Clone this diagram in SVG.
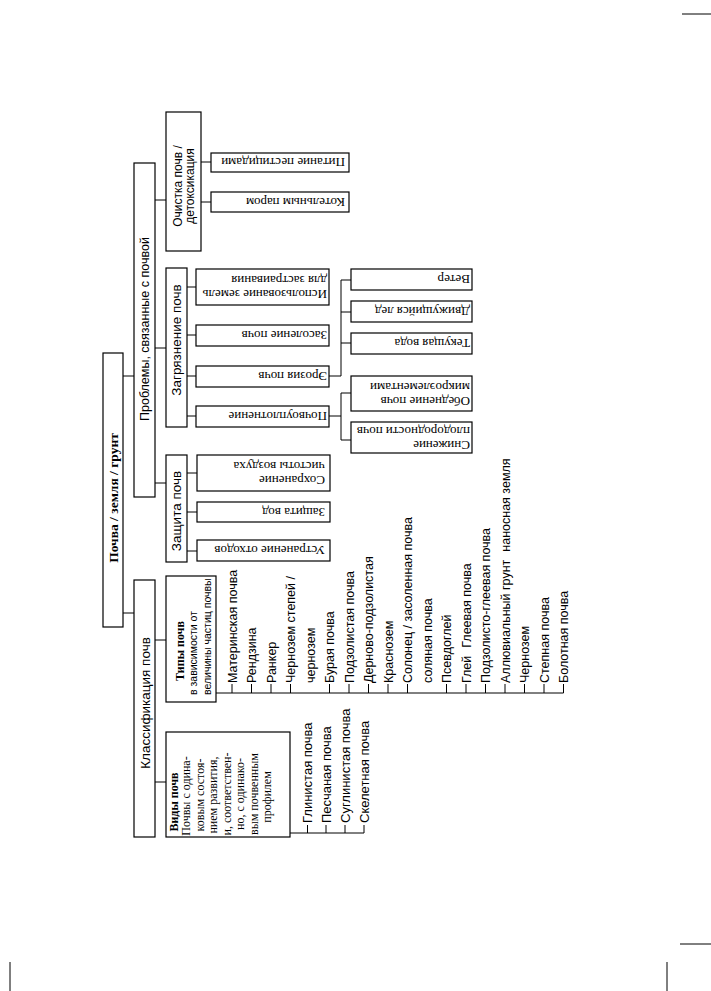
<svg xmlns="http://www.w3.org/2000/svg" width="711" height="991" viewBox="0 0 711 991">
<style>
.box{fill:#fff;stroke:#000;stroke-width:1.2}
.ln{stroke:#000;stroke-width:1;fill:none}
.sans{font-family:"Liberation Sans",Arial,sans-serif;fill:#000}
.serif{font-family:"Liberation Serif","Times New Roman",serif;fill:#000}
.lab{font-size:13.5px}
.bt{font-size:13px}
.li{font-size:12.5px}
.mid{text-anchor:middle}
</style>
<rect width="711" height="991" fill="#fff"/>
<g id="page-marks" class="ln">
<line x1="682" y1="14" x2="711" y2="14"/>
<line x1="680" y1="944" x2="711" y2="944"/>
<line x1="10" y1="962" x2="10" y2="991"/>
<line x1="667" y1="962" x2="667" y2="991"/>
</g>
<g id="connectors" class="ln">
<line x1="123" y1="376" x2="134" y2="376"/>
<line x1="123" y1="613" x2="134" y2="613"/>
<line x1="155" y1="200" x2="166" y2="200"/>
<line x1="155" y1="348" x2="166" y2="348"/>
<line x1="155" y1="483" x2="166" y2="483"/>
<line x1="155" y1="640" x2="166" y2="640"/>
<line x1="155" y1="782" x2="166" y2="782"/>
<line x1="201" y1="162" x2="211" y2="162"/>
<line x1="201" y1="202" x2="211" y2="202"/>
<line x1="187" y1="287" x2="196" y2="287"/>
<line x1="187" y1="335" x2="196" y2="335"/>
<line x1="187" y1="376" x2="196" y2="376"/>
<line x1="187" y1="416" x2="196" y2="416"/>
<line x1="187" y1="473" x2="197" y2="473"/>
<line x1="187" y1="512" x2="197" y2="512"/>
<line x1="187" y1="551" x2="197" y2="551"/>
<polyline points="329,376 341,376"/>
<line x1="341" y1="280" x2="341" y2="376"/>
<line x1="341" y1="280" x2="351" y2="280"/>
<line x1="341" y1="312" x2="351" y2="312"/>
<line x1="341" y1="343" x2="351" y2="343"/>
<line x1="329" y1="416" x2="341" y2="416"/>
<line x1="341" y1="393" x2="341" y2="440"/>
<line x1="341" y1="393" x2="351" y2="393"/>
<line x1="341" y1="440" x2="351" y2="440"/>
<line x1="216" y1="693" x2="563.5" y2="693"/>
<path d="M232 693V684M251.5 693V684M271 693V684M290.5 693V684M329.5 693V684M349 693V684M368.5 693V684M388 693V684M407.5 693V684M446.5 693V684M466 693V684M485.5 693V684M505 693V684M524.5 693V684M544 693V684M563.5 693V684"/>
<line x1="290" y1="833" x2="364" y2="833"/>
<path d="M307.5 833V825M326 833V825M345 833V825M364 833V825"/>
</g>
<g id="root">
<rect class="box" x="103" y="353" width="20" height="274"/>
<text class="serif mid" font-weight="bold" font-size="13.5" transform="rotate(-90 118 498)" x="118" y="498">Почва / земля / грунт</text>
</g>
<g id="problems">
<rect class="box" x="134" y="163" width="21" height="334"/>
<text class="sans mid" font-size="12.5" transform="rotate(-90 149 329)" x="149" y="329">Проблемы, связанные с почвой</text>
</g>
<g id="classification">
<rect class="box" x="134" y="580" width="21" height="257"/>
<text class="sans lab mid" transform="rotate(-90 149.5 703)" x="149.5" y="703">Классификация почв</text>
</g>
<g id="cleaning">
<rect class="box" x="166" y="112" width="35" height="139"/>
<text class="sans mid" font-size="12" transform="rotate(-90 181.5 186)" x="181.5" y="186">Очистка почв /<tspan x="181.5" dy="12">детоксикация</tspan></text>
</g>
<g id="pollution">
<rect class="box" x="166" y="268" width="21" height="159"/>
<text class="sans lab mid" transform="rotate(-90 181 340)" x="181" y="340">Загрязнение почв</text>
</g>
<g id="protection">
<rect class="box" x="166" y="455" width="21" height="107"/>
<text class="sans lab mid" transform="rotate(-90 181 511)" x="181" y="511">Защита почв</text>
</g>
<g id="types">
<rect class="box" x="166" y="576" width="50" height="126"/>
<text class="serif mid" font-weight="bold" font-size="12" transform="rotate(-90 183.5 651)" x="183.5" y="651">Типы почв</text>
<text class="sans" font-size="10.5" transform="rotate(-90 196.5 695)" x="196.5" y="695">в зависимости от</text>
<text class="sans" font-size="10.5" transform="rotate(-90 210.5 695)" x="210.5" y="695">величины частиц почвы</text>
</g>
<g id="kinds">
<rect class="box" x="166" y="732" width="124" height="105"/>
<g class="serif mid" font-size="12">
<text font-weight="bold" transform="rotate(-90 177.5 802)" x="177.5" y="802">Виды почв</text>
<text transform="rotate(-90 190 796)" x="190" y="796">Почвы с одина-</text>
<text transform="rotate(-90 203.5 795)" x="203.5" y="795">ковым состоя-</text>
<text transform="rotate(-90 217 795)" x="217" y="795">нием развития,</text>
<text transform="rotate(-90 230.5 794)" x="230.5" y="794">и, соответствен-</text>
<text transform="rotate(-90 244 794)" x="244" y="794">но, с одинако-</text>
<text transform="rotate(-90 257.5 794)" x="257.5" y="794">вым почвенным</text>
<text transform="rotate(-90 271 797)" x="271" y="797">профилем</text>
</g>
</g>
<g id="clean-1"><rect class="box" x="211" y="153" width="138" height="19"/><text class="serif bt" transform="rotate(180 345 158)" x="345" y="158">Питание пестицидами</text></g>
<g id="clean-2"><rect class="box" x="211" y="192" width="138" height="20"/><text class="serif bt" transform="rotate(180 345 197.5)" x="345" y="197.5">Котельным паром</text></g>
<g id="poll-1"><rect class="box" x="196" y="269" width="133" height="36"/><text class="serif bt" transform="rotate(180 327 289.5)" x="327" y="289.5">Использование земель<tspan x="327" dy="14">для застраивания</tspan></text></g>
<g id="poll-2"><rect class="box" x="196" y="325" width="133" height="21"/><text class="serif bt" transform="rotate(180 327 331)" x="327" y="331">Засоление почв</text></g>
<g id="poll-3"><rect class="box" x="196" y="366" width="133" height="21"/><text class="serif bt" transform="rotate(180 327 372)" x="327" y="372">Эрозия почв</text></g>
<g id="poll-4"><rect class="box" x="196" y="406" width="133" height="21"/><text class="serif bt" transform="rotate(180 327 412)" x="327" y="412">Почвоуплотнение</text></g>
<g id="prot-1"><rect class="box" x="197" y="455" width="133" height="36"/><text class="serif bt" transform="rotate(180 325 475.5)" x="325" y="475.5">Сохранение<tspan x="325" dy="14">чистоты воздуха</tspan></text></g>
<g id="prot-2"><rect class="box" x="197" y="502" width="133" height="20"/><text class="serif bt" transform="rotate(180 325 507.5)" x="325" y="507.5">Защита вод</text></g>
<g id="prot-3"><rect class="box" x="197" y="540" width="133" height="21"/><text class="serif bt" transform="rotate(180 325 546)" x="325" y="546">Устранение отходов</text></g>
<g id="eros-1"><rect class="box" x="351" y="269" width="121" height="21"/><text class="serif bt" transform="rotate(180 470 275)" x="470" y="275">Ветер</text></g>
<g id="eros-2"><rect class="box" x="351" y="301" width="121" height="21"/><text class="serif bt" transform="rotate(180 470 307)" x="470" y="307">Движущийся лед</text></g>
<g id="eros-3"><rect class="box" x="351" y="333" width="121" height="21"/><text class="serif bt" transform="rotate(180 470 339)" x="470" y="339">Текущая вода</text></g>
<g id="comp-1"><rect class="box" x="351" y="376" width="121" height="35"/><text class="serif bt" transform="rotate(180 470 396.5)" x="470" y="396.5">Обеднение почв<tspan x="470" dy="14">микроэлементами</tspan></text></g>
<g id="comp-2"><rect class="box" x="351" y="422" width="121" height="31"/><text class="serif bt" transform="rotate(180 470 441)" x="470" y="441">Снижение<tspan x="470" dy="14">плодородности почв</tspan></text></g>
<g id="types-list" class="sans li">
<text transform="rotate(-90 236.5 683)" x="236.5" y="683">Материнская почва</text>
<text transform="rotate(-90 256 683)" x="256" y="683">Рендзина</text>
<text transform="rotate(-90 275.5 683)" x="275.5" y="683">Ранкер</text>
<text transform="rotate(-90 295 683)" x="295" y="683">Чернозем степей /</text>
<text transform="rotate(-90 314.5 683)" x="314.5" y="683">чернозем</text>
<text transform="rotate(-90 334 683)" x="334" y="683">Бурая почва</text>
<text transform="rotate(-90 353.5 683)" x="353.5" y="683">Подзолистая почва</text>
<text transform="rotate(-90 373 683)" x="373" y="683">Дерново-подзолистая</text>
<text transform="rotate(-90 392.5 683)" x="392.5" y="683">Краснозем</text>
<text transform="rotate(-90 412 683)" x="412" y="683">Солонец / засоленная почва</text>
<text transform="rotate(-90 431.5 683)" x="431.5" y="683">соляная почва</text>
<text transform="rotate(-90 451 683)" x="451" y="683">Псевдоглей</text>
<text transform="rotate(-90 470.5 683)" x="470.5" y="683">Глей<tspan dx="8">Глеевая почва</tspan></text>
<text transform="rotate(-90 490 683)" x="490" y="683">Подзолисто-глеевая почва</text>
<text transform="rotate(-90 509.5 683)" x="509.5" y="683">Аллювиальный грунт<tspan dx="8">наносная земля</tspan></text>
<text transform="rotate(-90 529 683)" x="529" y="683">Чернозем</text>
<text transform="rotate(-90 548.5 683)" x="548.5" y="683">Степная почва</text>
<text transform="rotate(-90 568 683)" x="568" y="683">Болотная почва</text>
</g>
<g id="kinds-list" class="sans" font-size="13">
<text transform="rotate(-90 312 823)" x="312" y="823">Глинистая почва</text>
<text transform="rotate(-90 330.5 823)" x="330.5" y="823">Песчаная почва</text>
<text transform="rotate(-90 349.5 823)" x="349.5" y="823">Суглинистая почва</text>
<text transform="rotate(-90 368.5 823)" x="368.5" y="823">Скелетная почва</text>
</g>
</svg>
